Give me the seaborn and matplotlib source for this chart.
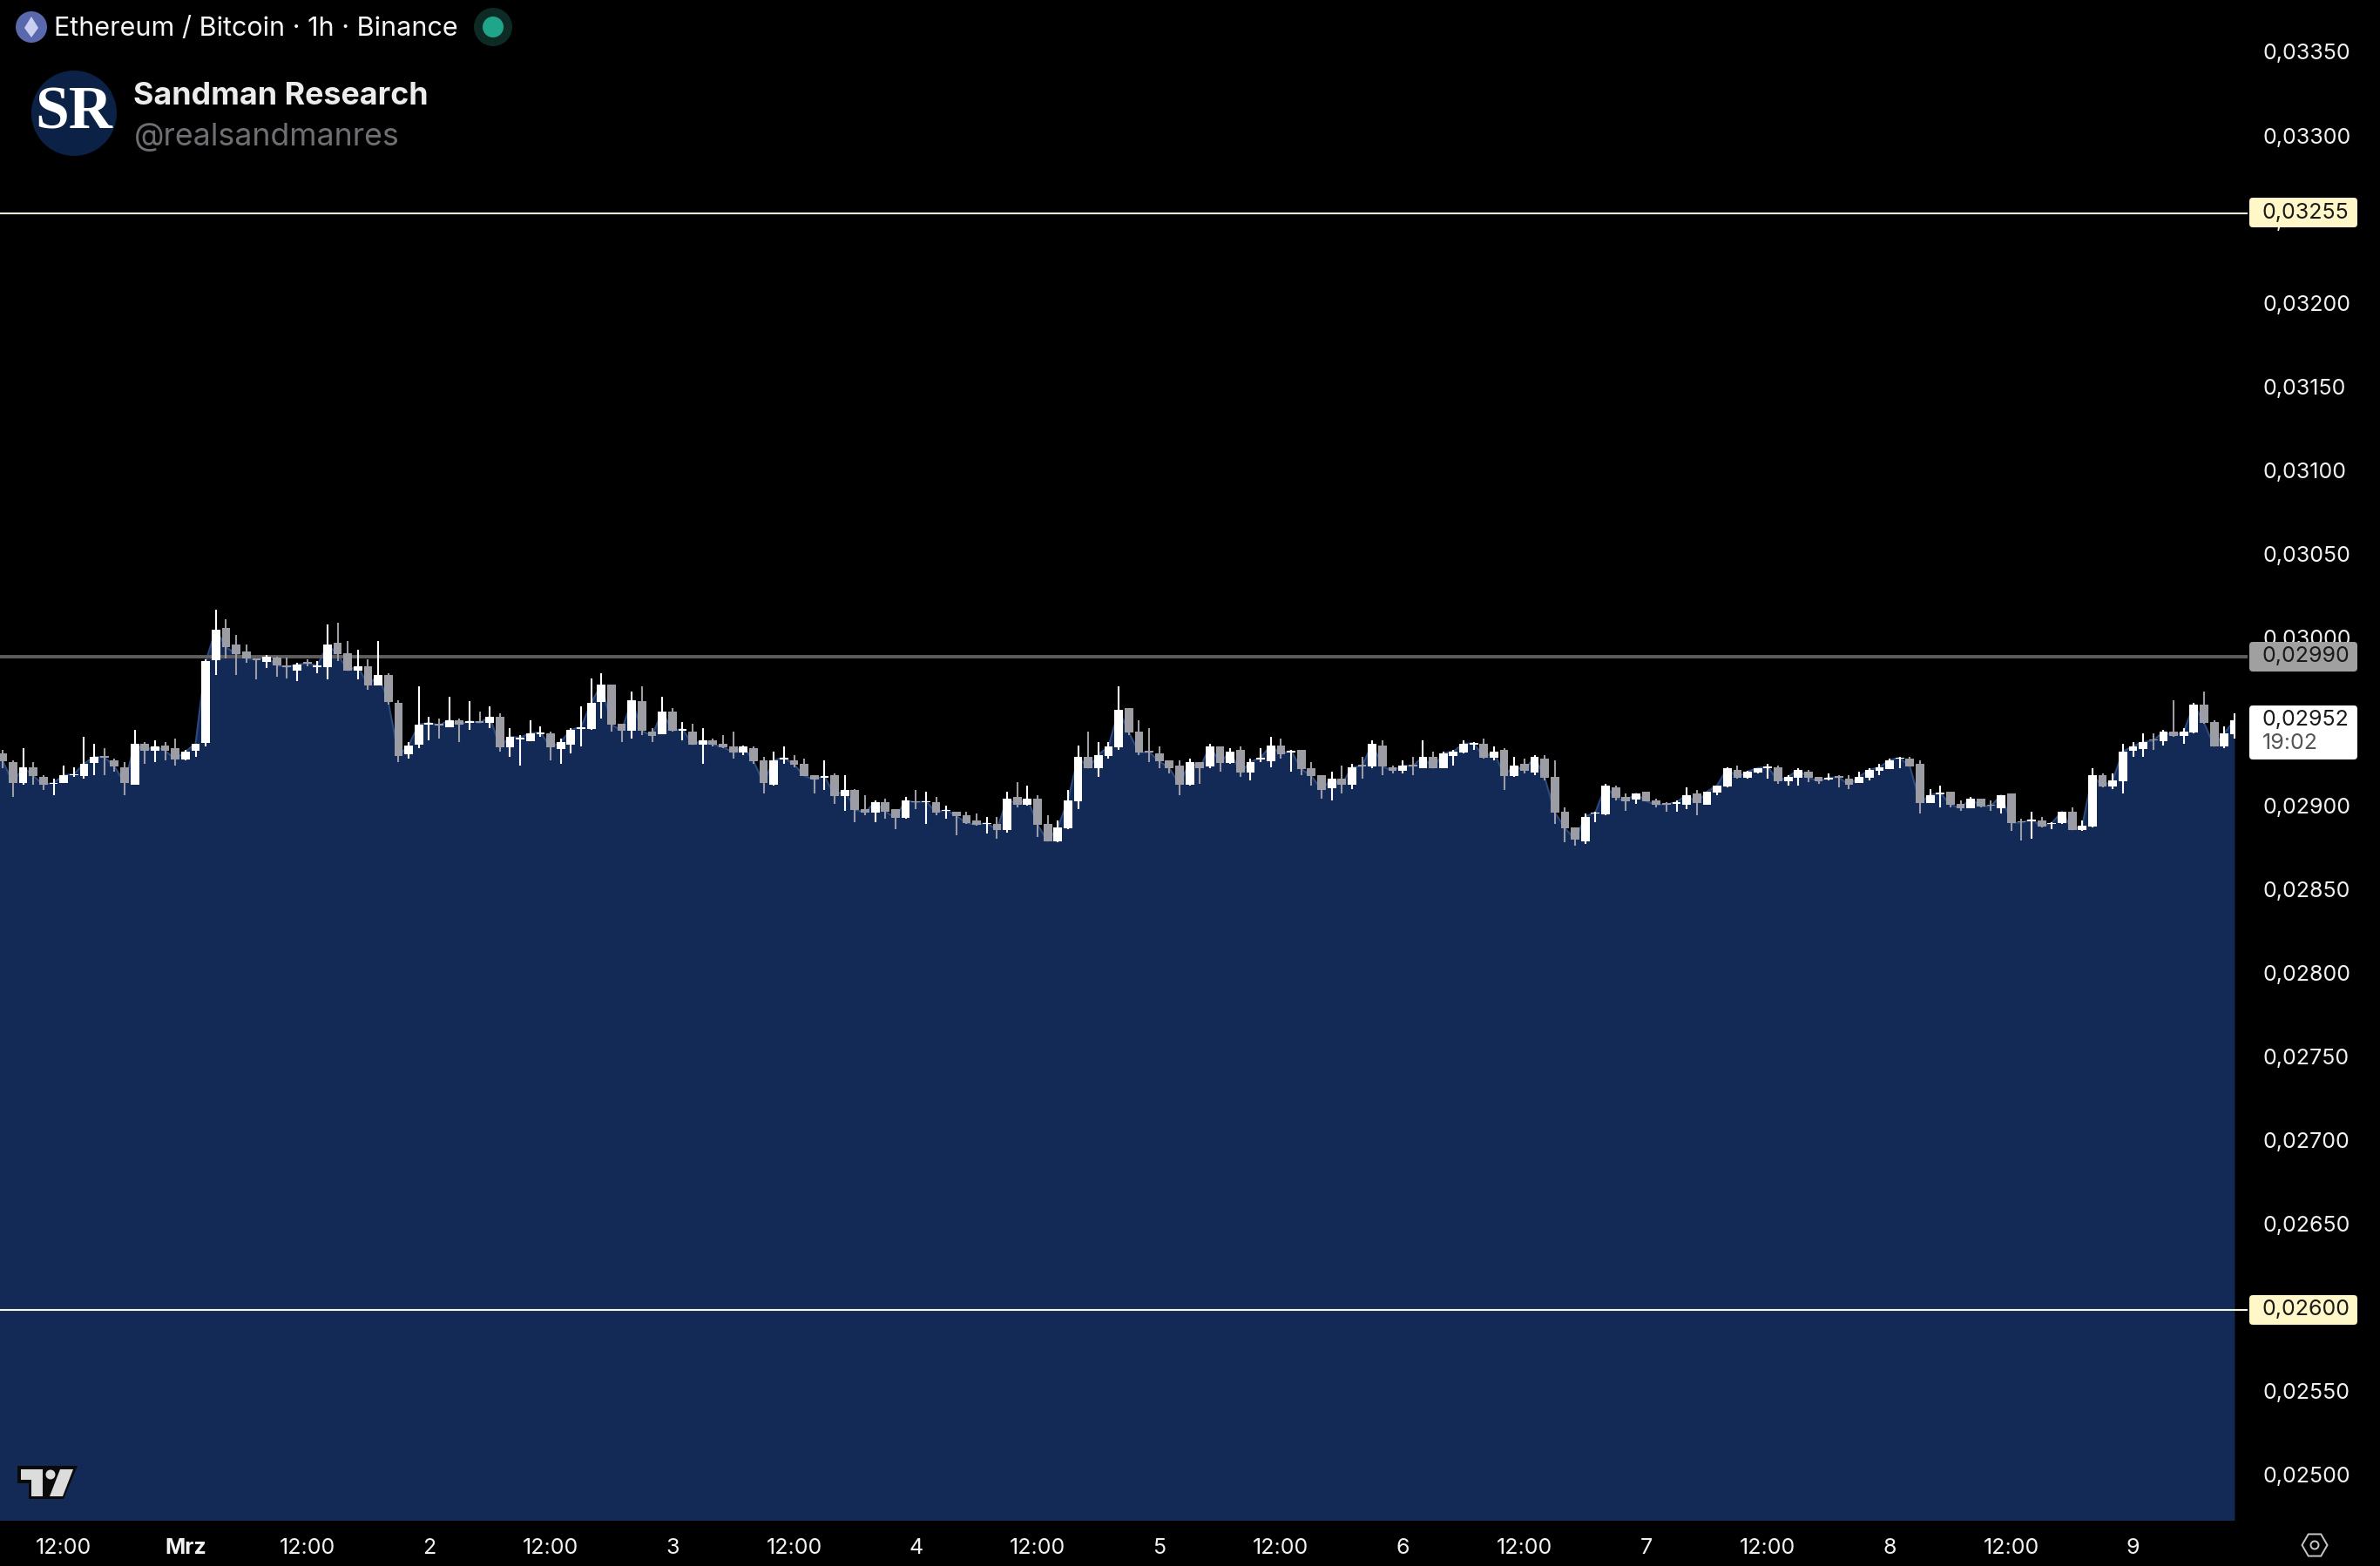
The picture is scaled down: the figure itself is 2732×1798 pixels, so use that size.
import matplotlib
matplotlib.use("Agg")
import matplotlib.pyplot as plt
from matplotlib.patches import Circle, Polygon, FancyBboxPatch, RegularPolygon
from matplotlib.transforms import ScaledTranslation
import numpy as np
import seaborn as sns

# ETH/BTC hourly candles, prices in units of 0.00001
body_top = [
    2932.3,2927.1,2924.0,2924.0,2918.3,2914.6,2919.3,2919.8,2926.1,2930.2,
    2930.6,2928.2,2924.0,2938.0,2938.0,2936.5,2937.0,2935.4,2933.4,2938.0,
    2987.4,3006.1,3007.2,2997.3,2993.1,2989.0,2990.0,2989.5,2984.7,2985.3,
    2986.9,2984.8,2997.3,2998.3,2992.1,2984.3,2984.3,2979.1,2979.1,2962.5,
    2937.0,2949.5,2950.5,2949.8,2952.1,2952.1,2951.6,2951.4,2954.2,2954.2,
    2942.2,2941.7,2944.3,2944.8,2944.3,2939.1,2946.4,2947.9,2962.5,2973.4,
    2973.4,2950.0,2964.0,2963.5,2945.3,2957.3,2957.3,2946.9,2945.3,2940.1,
    2940.1,2938.0,2936.5,2936.5,2935.4,2928.2,2928.2,2929.7,2928.2,2926.1,
    2919.3,2918.8,2919.3,2910.5,2910.5,2899.0,2903.2,2903.2,2899.0,2904.2,
    2903.7,2903.7,2903.2,2898.5,2897.5,2895.4,2892.3,2890.7,2890.2,2905.3,
    2906.3,2905.3,2905.3,2890.2,2888.1,2904.2,2930.2,2930.2,2931.3,2936.5,
    2958.3,2959.3,2945.3,2933.9,2932.3,2928.2,2925.0,2927.1,2927.1,2936.5,
    2936.5,2933.4,2934.4,2927.1,2929.7,2937.0,2937.0,2933.9,2934.4,2923.5,
    2919.3,2917.2,2917.2,2924.0,2925.6,2938.0,2937.0,2924.0,2925.0,2925.6,
    2930.2,2930.2,2932.3,2933.4,2938.0,2938.4,2938.0,2933.4,2934.4,2925.0,
    2926.1,2930.2,2929.2,2918.3,2897.5,2888.1,2894.4,2897.0,2913.1,2912.0,
    2906.3,2908.4,2909.4,2904.2,2902.7,2903.2,2907.4,2908.4,2909.4,2913.1,
    2923.5,2922.4,2921.4,2923.5,2924.3,2924.0,2918.3,2922.4,2921.4,2918.3,
    2917.8,2918.8,2917.2,2918.3,2922.4,2924.0,2928.2,2929.7,2929.2,2926.1,
    2907.4,2908.7,2909.4,2902.2,2905.3,2905.3,2901.6,2907.4,2908.4,2891.8,
    2892.8,2892.3,2890.7,2897.5,2897.5,2889.2,2919.3,2919.3,2916.2,2933.4,
    2936.5,2939.1,2940.6,2945.3,2945.3,2945.3,2961.4,2961.4,2951.0,2944.3,2952.1,
]
body_bot = [
    2927.6,2914.6,2914.6,2918.8,2913.6,2913.9,2914.6,2919.0,2918.8,2926.6,
    2929.9,2924.5,2914.6,2913.6,2933.9,2933.9,2933.9,2928.7,2928.7,2933.9,
    2938.6,2987.9,2995.7,2991.6,2989.0,2988.1,2986.9,2984.8,2983.8,2981.7,
    2986.0,2984.0,2983.8,2991.6,2981.7,2981.7,2972.9,2972.9,2963.0,2930.8,
    2931.8,2937.5,2949.6,2949.0,2947.9,2949.5,2950.7,2950.5,2950.5,2936.0,
    2936.0,2940.8,2939.6,2943.9,2936.0,2934.9,2937.5,2947.0,2946.9,2963.0,
    2949.5,2945.8,2945.8,2945.8,2942.7,2943.8,2945.8,2946.0,2937.5,2937.5,
    2937.5,2936.0,2932.8,2932.8,2927.6,2914.6,2913.6,2928.8,2925.6,2918.8,
    2916.7,2917.9,2906.8,2906.8,2898.5,2897.0,2897.0,2897.5,2893.8,2893.8,
    2902.9,2902.9,2897.0,2897.7,2894.9,2890.7,2889.7,2889.9,2886.6,2886.6,
    2901.6,2901.6,2889.7,2879.8,2879.8,2887.6,2903.7,2923.5,2923.5,2930.8,
    2936.0,2944.8,2932.8,2933.0,2927.6,2923.5,2913.6,2913.6,2923.5,2924.5,
    2926.6,2926.6,2920.9,2920.9,2928.8,2927.6,2931.8,2933.0,2923.0,2918.8,
    2910.5,2911.5,2913.6,2913.6,2924.7,2924.5,2924.5,2921.9,2921.9,2924.7,
    2923.5,2923.5,2923.5,2930.8,2932.8,2937.5,2929.7,2929.7,2918.8,2918.8,
    2921.9,2920.9,2917.8,2897.0,2887.6,2880.8,2879.8,2896.1,2895.9,2905.8,
    2903.7,2904.8,2903.7,2901.6,2901.8,2902.3,2901.6,2902.7,2901.6,2908.9,
    2912.6,2917.8,2917.8,2920.9,2923.6,2915.7,2915.7,2917.8,2917.8,2915.7,
    2916.9,2917.9,2913.6,2914.6,2917.8,2921.9,2923.0,2929.0,2924.5,2902.7,
    2902.7,2907.9,2901.6,2899.6,2899.6,2900.6,2900.8,2899.6,2890.7,2890.9,
    2891.9,2888.6,2889.9,2890.7,2886.6,2886.6,2888.6,2912.6,2912.6,2915.7,
    2933.9,2934.9,2939.8,2939.6,2942.7,2942.7,2944.8,2950.5,2936.5,2936.5,2943.7,
]
highs = [
    2934.1,2928.3,2935.3,2926.9,2919.3,2917.1,2924.9,2924.0,2942.2,2938.0,
    2935.3,2928.9,2926.9,2946.2,2938.9,2940.1,2939.1,2941.0,2934.4,2938.0,
    2988.5,3018.1,3012.4,3003.0,2997.3,2989.0,2991.1,2990.0,2989.5,2986.4,
    2988.5,2987.4,3009.3,3010.3,2999.4,2994.2,2988.5,2999.4,2980.1,2964.0,
    2939.1,2972.4,2954.2,2953.1,2966.1,2953.1,2963.5,2957.3,2960.4,2956.2,
    2947.4,2943.2,2952.1,2948.4,2945.3,2941.2,2947.4,2960.4,2977.0,2980.1,
    2973.4,2950.0,2969.2,2972.3,2947.4,2966.1,2959.3,2951.0,2950.0,2947.4,
    2941.2,2943.2,2945.3,2937.0,2936.5,2930.2,2933.4,2936.5,2931.3,2929.2,
    2919.3,2928.2,2920.4,2919.3,2911.0,2907.4,2904.2,2905.3,2899.0,2906.3,
    2910.5,2909.4,2906.3,2901.1,2897.5,2897.5,2896.4,2894.4,2894.4,2909.4,
    2915.2,2912.9,2907.4,2895.4,2892.3,2910.5,2937.0,2945.3,2939.1,2939.1,
    2972.3,2959.3,2952.1,2947.4,2936.5,2928.2,2928.2,2929.2,2927.1,2938.0,
    2936.5,2935.4,2936.5,2929.2,2935.4,2942.2,2941.1,2934.4,2934.4,2927.1,
    2919.3,2921.4,2925.0,2926.1,2930.2,2940.1,2940.1,2925.0,2928.2,2930.2,
    2940.1,2933.4,2933.4,2934.4,2940.1,2939.1,2941.1,2936.5,2935.4,2930.2,
    2929.2,2931.3,2931.3,2928.2,2900.1,2888.1,2896.4,2897.5,2914.1,2913.1,
    2908.4,2908.4,2909.4,2905.3,2903.2,2904.2,2912.0,2910.5,2909.4,2913.1,
    2924.0,2925.0,2921.9,2923.5,2926.1,2925.0,2919.3,2923.5,2922.4,2918.3,
    2920.4,2919.3,2919.3,2921.4,2923.5,2926.1,2929.2,2930.2,2930.2,2928.2,
    2911.0,2913.1,2909.4,2904.2,2906.3,2905.3,2904.2,2907.4,2908.4,2893.3,
    2897.5,2894.4,2891.2,2897.5,2900.1,2892.3,2923.5,2920.4,2920.4,2938.0,
    2939.1,2944.3,2944.3,2946.3,2964.0,2947.4,2962.5,2969.2,2952.1,2948.4,2956.2,
]
lows = [
    2923.5,2906.3,2913.3,2913.3,2910.5,2907.5,2914.6,2918.3,2917.4,2919.3,
    2919.3,2921.4,2907.5,2913.3,2926.1,2927.1,2928.2,2925.0,2928.2,2930.2,
    2936.5,2979.1,2989.0,2979.1,2986.4,2976.5,2983.3,2978.1,2977.0,2975.5,
    2984.3,2980.1,2976.5,2987.4,2981.7,2976.5,2970.3,2972.9,2961.4,2927.1,
    2929.2,2935.4,2940.1,2941.2,2947.9,2939.1,2946.4,2950.5,2947.4,2933.4,
    2930.2,2925.0,2939.6,2942.2,2928.2,2926.1,2932.3,2936.5,2946.4,2953.1,
    2945.3,2939.1,2941.2,2943.2,2939.1,2943.8,2945.3,2940.1,2937.5,2926.1,
    2936.5,2935.4,2929.2,2931.3,2926.1,2908.4,2913.1,2926.1,2924.0,2918.8,
    2908.4,2910.5,2902.2,2898.0,2891.2,2895.4,2891.2,2893.3,2887.1,2893.3,
    2899.0,2890.2,2895.4,2893.3,2883.4,2890.2,2889.2,2884.5,2881.4,2885.0,
    2900.1,2901.1,2882.4,2879.8,2879.3,2887.1,2899.0,2923.5,2918.3,2929.2,
    2934.4,2943.2,2931.3,2927.1,2923.5,2920.4,2907.4,2913.1,2914.1,2923.5,
    2921.4,2926.1,2918.3,2916.2,2927.1,2924.0,2929.2,2921.4,2919.3,2913.1,
    2905.3,2904.2,2908.4,2911.0,2917.2,2923.5,2919.3,2920.4,2920.4,2919.3,
    2923.5,2923.5,2923.5,2925.0,2932.3,2934.4,2929.2,2928.2,2910.5,2918.3,
    2920.4,2919.3,2916.2,2890.2,2879.3,2877.2,2878.2,2891.2,2895.4,2904.2,
    2898.0,2902.2,2903.7,2900.1,2897.5,2897.5,2899.0,2895.4,2901.6,2907.4,
    2912.0,2917.2,2917.2,2920.4,2917.2,2914.1,2913.1,2913.1,2915.2,2914.1,
    2916.2,2912.0,2911.0,2914.6,2916.2,2919.3,2923.0,2923.5,2924.5,2896.4,
    2902.7,2900.1,2900.1,2898.0,2899.6,2900.1,2898.0,2896.4,2886.0,2880.3,
    2881.4,2888.1,2887.1,2890.2,2886.6,2886.0,2888.1,2912.0,2911.0,2908.4,
    2930.2,2930.2,2934.4,2937.0,2942.2,2938.0,2944.3,2950.0,2936.5,2935.4,2941.1,
]
# w = close above open, g = close below open
direction = (
    "ggwggwwwww" "gggwgwggww" "wwggggwggw" "gwwggwgwgg" "wwwgwgwgwg"
    "wwwwgwwwww" "ggwggwgwgw" "gggwggwwgg" "gwgwggwggw" "gwgwgggwgw"
    "gwggwwwgww" "wggggggwgw" "gwgwwwgwgg" "gwgwgwggwg" "wgwwwwgwgw"
    "gwggggwwwg" "gwgggwwgww" "wgwwwgwwgg" "wggwwwwwgg" "wwggwggwgg"
    "wgwwgwwgww" "wwgwgwwggww"
)
# close of the hour just left of the visible range
prior_close = 2931.0

price_ticks = [2500, 2550, 2600, 2650, 2700, 2750, 2800, 2850, 2900, 2950,
               3000, 3050, 3100, 3150, 3200, 3250, 3300, 3350]
price_labels = ["0,02500", "0,02550", "0,02600", "0,02650", "0,02700", "0,02750",
                "0,02800", "0,02850", "0,02900", "0,02950", "0,03000", "0,03050",
                "0,03100", "0,03150", "0,03200", "0,03250", "0,03300", "0,03350"]
time_ticks = [6, 18, 30, 42, 54, 66, 78, 90, 102, 114, 126, 138, 150, 162, 174, 186, 198, 210]
time_labels = ["12:00", "Mrz", "12:00", "2", "12:00", "3", "12:00", "4", "12:00",
               "5", "12:00", "6", "12:00", "7", "12:00", "8", "12:00", "9"]
level_prices = [3255, 2990, 2600]
level_colors = ["#fcf9e2", "#5e5e5e", "#fcf9e2"]

FONT = "Inter"
BG = "#000000"
AREA = "#132a56"
AREA_LINE = "#2b4a80"
GREY = "#9b9ca4"
W, H = 2732, 1798

sns.set_theme(style="dark", rc={"axes.facecolor": BG, "figure.facecolor": BG})
plt.rcParams["font.family"] = [FONT, "DejaVu Sans"]

fig = plt.figure(figsize=(W / 100, H / 100), dpi=100)
ax = fig.add_axes([0, (H - 1745) / H, 2566 / W, 1745 / H])
hours = np.arange(len(body_top))
top = np.array(body_top)
bot = np.array(body_bot)
up = np.array([d == "w" for d in direction])
closes = np.where(up, top, bot)
colors = ["#ffffff" if u else GREY for u in up]

line_x = np.r_[-1, hours]
line_y = np.r_[prior_close, closes]
ax.fill_between(line_x, line_y, 2400, color=AREA, lw=0, zorder=1)
sns.lineplot(x=line_x, y=line_y, color=AREA_LINE, lw=1.5, ax=ax, zorder=2)

for price, col in zip(level_prices, level_colors):
    lw = 2.8 if col == "#5e5e5e" else 1.5
    ax.plot([0, 2580 / 2566], [price, price], color=col, lw=lw, clip_on=False,
            transform=ax.get_yaxis_transform(), solid_capstyle="butt", zorder=3)

ax.vlines(hours, lows, highs, colors=colors, lw=1.5, zorder=4)
ax.bar(hours, top - bot, bottom=bot, width=0.84, color=colors, lw=0, zorder=5)

ax.set_xlim(-0.283, 220.09)
ax.set_ylim(2474.5, 3382.2)
ax.set_xlabel("")
ax.set_ylabel("")
ax.yaxis.tick_right()
ax.set_yticks(price_ticks, price_labels)
ax.set_xticks(time_ticks, time_labels)
ax.tick_params(axis="y", length=0, pad=23, labelsize=18, labelcolor="#f2f2f2")
ax.tick_params(axis="x", length=0, pad=15, labelsize=18, labelcolor="#f2f2f2")
nudge = ScaledTranslation(0, 2.5 / 100, fig.dpi_scale_trans)
for lab in ax.get_yticklabels():
    lab.set_transform(lab.get_transform() + nudge)
for lab in ax.get_xticklabels():
    if lab.get_text() == "Mrz":
        lab.set_fontweight("bold")
for s in ax.spines.values():
    s.set_visible(False)
ax.grid(False)

# overlay in image pixels for the labels and logos
ov = fig.add_axes([0, 0, 1, 1])
ov.set_xlim(0, W)
ov.set_ylim(H, 0)
ov.axis("off")
ov.patch.set_alpha(0)


def price_box(y0, y1, color):
    ov.add_patch(FancyBboxPatch((2584, y0 + 2), 120, y1 - y0 - 4,
                                boxstyle="round,pad=2,rounding_size=4", fc=color, ec="none"))


def box_text(y, s, color="#1a1a1a"):
    ov.text(2597, y, s, color=color, fontsize=18, va="center", family=FONT)


price_box(227, 261, "#fff7c8")
box_text(244.5, "0,03255")
price_box(737, 771, "#a0a0a0")
box_text(753.5, "0,02990")
price_box(1487, 1521, "#fff7c8")
box_text(1503, "0,02600")
price_box(810, 872, "#ffffff")
box_text(826.5, "0,02952")
box_text(853, "19:02", "#555555")

# header
ov.add_patch(Circle((36, 31), 18, fc="#5a68ad", ec="none"))
ov.add_patch(Polygon([(36, 19), (44, 32), (36, 43), (28, 32)], fc="#c9cfee", ec="none"))
ov.text(62, 33, "Ethereum / Bitcoin · 1h · Binance", color="#f5f5f5", fontsize=22,
        va="center", family=FONT)
ov.add_patch(Circle((566, 31), 22, fc="#0e2a25", ec="none"))
ov.add_patch(Circle((566, 31), 12, fc="#1fa58a", ec="none"))

ov.add_patch(Circle((85, 130), 49, fc="#0b2145", ec="none"))
ov.text(85, 130, "SR", color="white", fontsize=50, fontweight="bold", ha="center",
        va="center", family="Liberation Serif")
ov.text(153, 110, "Sandman Research", color="#ececec", fontsize=25.8, fontweight="bold",
        va="center", family=FONT)
ov.text(154, 158, "@realsandmanres", color="#6f6f73", fontsize=25.7, va="center", family=FONT)

# chart watermark
ov.add_patch(Polygon([(20, 1683), (89, 1683), (73, 1721), (33, 1721), (33, 1703), (20, 1703)],
                     fc="#0a0a0a", ec="none"))
ov.add_patch(Polygon([(24, 1687), (49, 1687), (49, 1718), (36, 1718), (36, 1699), (24, 1699)],
                     fc="#dcdcdc", ec="none"))
ov.add_patch(Circle((58, 1693), 5.5, fc="#dcdcdc", ec="none"))
ov.add_patch(Polygon([(69, 1687), (84, 1687), (72, 1718), (57, 1718)], fc="#dcdcdc", ec="none"))

# settings icon
ov.add_patch(RegularPolygon((2657, 1774), 6, radius=14.5, orientation=np.pi / 2, fc="none",
                            ec="#c8c8c8", lw=1.4))
ov.add_patch(Circle((2657, 1774), 4.5, fc="none", ec="#c8c8c8", lw=1.4))

fig.savefig("out.png", dpi=100, facecolor=BG)
